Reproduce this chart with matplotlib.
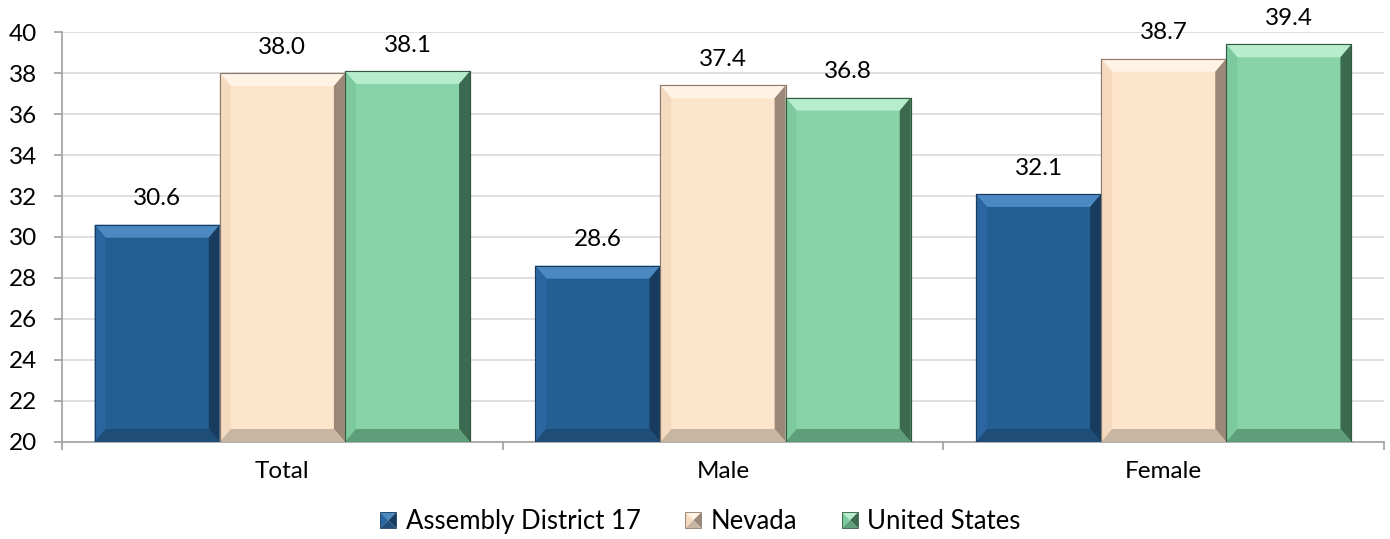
import matplotlib
matplotlib.use("Agg")
import matplotlib.pyplot as plt
import numpy as np
from matplotlib.patches import Polygon, Rectangle
from matplotlib.legend_handler import HandlerBase

categories = ["Total", "Male", "Female"]
series_names = ["Assembly District 17", "Nevada", "United States"]
district = [30.6, 28.6, 32.1]
nevada = [38.0, 37.4, 38.7]
usa = [38.1, 36.8, 39.4]
yticks = [20, 22, 24, 26, 28, 30, 32, 34, 36, 38, 40]

# face, top, left, right, bottom, edge
palettes = [
    dict(face="#245F93", top="#4C89C2", left="#2B66A0", right="#183C5F", bottom="#1E4D78", edge="#1A3C5C"),
    dict(face="#FDE5CC", top="#FFF3E6", left="#F6DAC0", right="#9C8878", bottom="#C9B6A2", edge="#8A7A6C"),
    dict(face="#88D4A8", top="#B6EDCC", left="#7CCA9D", right="#3B6A50", bottom="#5E9E79", edge="#34573F"),
]

FS = 17.5
plt.rcParams['font.family'] = ['Lato', 'DejaVu Sans']
fig = plt.figure(figsize=(13.9, 5.39), dpi=100)
ax = fig.add_axes([0.0446, 0.180, 0.9511, 0.7606])

n = len(categories)
x = np.arange(n)
width = 0.284
offsets = [-width, 0, width]
ax.set_xlim(-0.5, n - 0.5)
ax.set_ylim(20, 40)

bbox = ax.get_window_extent()
px_x = bbox.width / n
px_y = bbox.height / 20.0
bx = 11 / px_x
by = 13 / px_y

for vals, off, pal in zip([district, nevada, usa], offsets, palettes):
    bars = ax.bar(x + off, np.array(vals) - 20, width=width, bottom=20,
                  color=pal["face"], edgecolor=pal["edge"], linewidth=0.8, zorder=3)
    for b, v in zip(bars, vals):
        x0 = b.get_x(); x1 = x0 + b.get_width()
        y0 = b.get_y(); y1 = y0 + b.get_height()
        polys = [
            ([(x0, y1), (x1, y1), (x1 - bx, y1 - by), (x0 + bx, y1 - by)], pal["top"]),
            ([(x0, y0), (x0, y1), (x0 + bx, y1 - by), (x0 + bx, y0 + by)], pal["left"]),
            ([(x1, y0), (x1, y1), (x1 - bx, y1 - by), (x1 - bx, y0 + by)], pal["right"]),
            ([(x0, y0), (x1, y0), (x1 - bx, y0 + by), (x0 + bx, y0 + by)], pal["bottom"]),
        ]
        for pts, c in polys:
            ax.add_patch(Polygon(pts, closed=True, facecolor=c, edgecolor='none', zorder=4))
        ax.add_patch(Rectangle((x0, y0), x1 - x0, y1 - y0, facecolor='none',
                               edgecolor=pal["edge"], linewidth=0.8, zorder=5))
        ax.annotate(f"{v:.1f}", (b.get_x() + b.get_width() / 2, y1), xytext=(0, 14),
                    textcoords="offset points", ha="center", va="baseline",
                    fontsize=FS, color="#000000", zorder=6, annotation_clip=False)

ax.set_yticks(yticks)
ax.set_yticklabels([str(t) for t in yticks], fontsize=FS)
ax.yaxis.grid(True, color="#D9D9D9", linewidth=1.2, zorder=0)
ax.set_axisbelow(True)

ax.set_xticks(x)
ax.set_xticklabels(categories, fontsize=FS)
ax.set_xticks(np.arange(-0.5, n, 1.0), minor=True)
ax.tick_params(axis='x', which='major', length=0, pad=14)
ax.tick_params(axis='x', which='minor', length=6, color="#A0A0A0", width=1.2)
ax.tick_params(axis='y', length=6, color="#A0A0A0", width=1.2, pad=12)

for s in ["top", "right"]:
    ax.spines[s].set_visible(False)
for s in ["left", "bottom"]:
    ax.spines[s].set_color("#A0A0A0")
    ax.spines[s].set_linewidth(1.2)


class BevelHandler(HandlerBase):
    def __init__(self, pal):
        super().__init__()
        self.pal = pal

    def create_artists(self, legend, orig_handle, xdescent, ydescent, width, height, fontsize, trans):
        s = min(width, height)
        x0 = -xdescent + (width - s) / 2
        y0 = -ydescent + (height - s) / 2
        x1, y1 = x0 + s, y0 + s
        cx, cy = (x0 + x1) / 2, (y0 + y1) / 2
        p = self.pal
        return [
            Polygon([(x0, y1), (x1, y1), (cx, cy)], facecolor=p["top"], edgecolor='none', transform=trans),
            Polygon([(x0, y0), (x0, y1), (cx, cy)], facecolor=p["left"], edgecolor='none', transform=trans),
            Polygon([(x1, y0), (x1, y1), (cx, cy)], facecolor=p["right"], edgecolor='none', transform=trans),
            Polygon([(x0, y0), (x1, y0), (cx, cy)], facecolor=p["bottom"], edgecolor='none', transform=trans),
            Rectangle((x0, y0), s, s, facecolor='none', edgecolor=p["edge"], linewidth=0.6, transform=trans),
        ]

LFS = 18.5
handles = [Rectangle((0, 0), 1, 1, facecolor=p["face"]) for p in palettes]
hmap = {h: BevelHandler(p) for h, p in zip(handles, palettes)}
fig.legend(handles, series_names, loc="center", bbox_to_anchor=(0.504, 0.032),
           ncol=3, frameon=False, fontsize=LFS, handler_map=hmap,
           handlelength=0.62, handleheight=0.62, handletextpad=0.36, columnspacing=1.75,
           borderpad=0.1)

fig.savefig("out.png", dpi=100)
